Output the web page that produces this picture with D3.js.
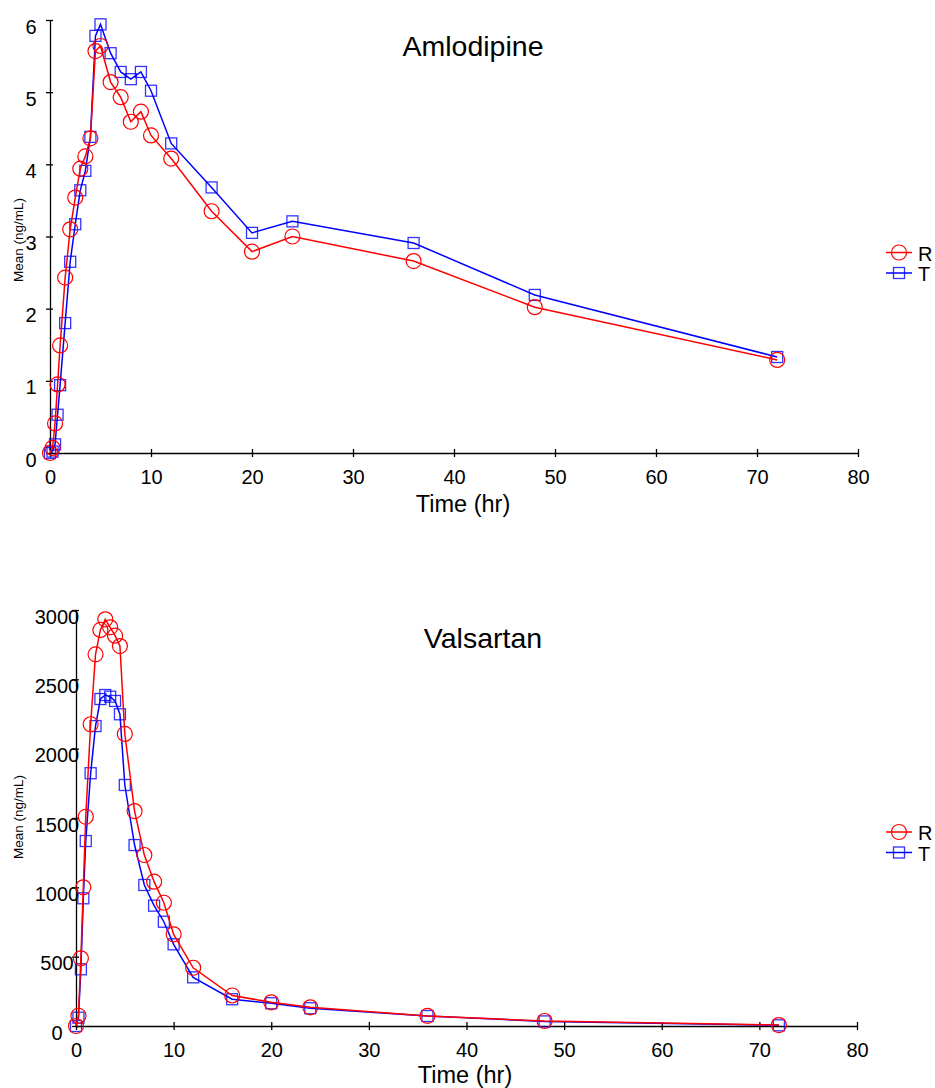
<!DOCTYPE html>
<html>
<head>
<meta charset="utf-8">
<script src="https://cdn.jsdelivr.net/npm/d3@7"></script>
<style>
  body { margin: 0; background: #fff; }
  svg { display: block; }
  text { font-family: "Liberation Sans", Arial, sans-serif; fill: #000; }
</style>
</head>
<body>
<div id="chart"></div>
<script>
const kWidth = 935;
const kHeight = 1088;

// sampling times (hr), same for both analytes
const times = [0, 0.25, 0.5, 0.75, 1, 1.5, 2, 2.5, 3, 3.5, 4, 4.5, 5, 6, 7, 8, 9, 10, 12, 16, 20, 24, 36, 48, 72];

// Amlodipine mean conc (ng/mL)
const amloR = [0, 0.07, 0.41, 0.95, 1.49, 2.43, 3.10, 3.54, 3.94, 4.11, 4.36, 5.57, 5.64, 5.14, 4.93, 4.59, 4.73, 4.40, 4.08, 3.35, 2.79, 3.00, 2.66, 2.02, 1.29];
const amloT = [0, 0.02, 0.12, 0.53, 0.94, 1.80, 2.65, 3.17, 3.64, 3.91, 4.38, 5.78, 5.94, 5.54, 5.28, 5.18, 5.28, 5.02, 4.29, 3.68, 3.05, 3.21, 2.91, 2.19, 1.33];

// Valsartan mean conc (ng/mL)
const valsR = [0, 74, 488, 1000, 1509, 2176, 2680, 2856, 2933, 2875, 2815, 2740, 2106, 1550, 1233, 1041, 889, 661, 420, 220, 171, 135, 73, 36, 7];
const valsT = [0, 60, 409, 921, 1334, 1823, 2163, 2358, 2387, 2375, 2344, 2248, 1738, 1305, 1017, 868, 752, 589, 351, 193, 164, 128, 72, 33, 5];

const xTicks = [0, 10, 20, 30, 40, 50, 60, 70, 80];
const amloYTicks = [0, 1, 2, 3, 4, 5, 6];
const valsYTicks = [0, 500, 1000, 1500, 2000, 2500, 3000];

const seriesNames = ["R", "T"];
const seriesColors = ["#ff0000", "#0000ff"];
const seriesMarks = ["circle", "square"];

function createSvg()
{
  return d3.select("#chart")
    .append("svg")
    .attr("width", kWidth)
    .attr("height", kHeight);
}

function drawMark(g, kind, color, x, y)
{
  if (kind === "circle") {
    g.append("circle")
      .attr("cx", x).attr("cy", y).attr("r", 7.5)
      .attr("fill", "none").attr("stroke", color).attr("stroke-width", 1.2);
  } else {
    g.append("rect")
      .attr("x", x - 5.5).attr("y", y - 5.5).attr("width", 11).attr("height", 11)
      .attr("fill", "none").attr("stroke", color).attr("stroke-width", 1.3)
      .attr("stroke-opacity", 0.8);
  }
}

function drawPanel(svg, p)
{
  const x = d3.scaleLinear().domain([0, 80]).range(p.xRange);
  const y = d3.scaleLinear().domain(p.yDomain).range(p.yRange);
  const g = svg.append("g");

  // x axis
  const xAxis = d3.axisBottom(x).tickValues(xTicks).tickSize(0).tickFormat("");
  const gx = g.append("g")
    .attr("transform", `translate(0, ${p.yRange[0]})`)
    .call(xAxis);
  gx.select(".domain").attr("stroke", "#000").attr("stroke-width", 1.3);
  gx.selectAll(".tick").append("line")
    .attr("y1", -4).attr("y2", 4).attr("stroke", "#000").attr("stroke-width", 1.3);
  gx.selectAll(".tick").append("text")
    .attr("y", 31).attr("text-anchor", "middle")
    .style("font-size", "20px")
    .text(d => d);

  // y axis
  const yAxis = d3.axisLeft(y).tickValues(p.yTicks).tickSize(0).tickFormat("");
  const gy = g.append("g")
    .attr("transform", `translate(${p.xRange[0]}, 0)`)
    .call(yAxis);
  gy.select(".domain").attr("stroke", "#000").attr("stroke-width", 1.3);
  gy.selectAll(".tick").append("line")
    .attr("x1", -4).attr("x2", 3).attr("stroke", "#000").attr("stroke-width", 1.3);
  gy.selectAll(".tick").append("text")
    .attr("x", -19).attr("y", 13).attr("text-anchor", "middle")
    .style("font-size", "20px")
    .text(d => d);

  // series, T underneath R
  const line = d3.line().x((d, i) => x(times[i])).y(d => y(d));
  [1, 0].forEach(s => {
    const vals = p.series[s];
    g.append("path")
      .datum(vals)
      .attr("d", line)
      .attr("fill", "none")
      .attr("stroke", seriesColors[s])
      .attr("stroke-width", 1.5);
    const mg = g.append("g");
    vals.forEach((v, i) => drawMark(mg, seriesMarks[s], seriesColors[s], x(times[i]), y(v)));
  });

  // title
  g.append("text")
    .attr("x", p.titleX).attr("y", p.titleY)
    .attr("text-anchor", "middle")
    .style("font-size", "28.5px")
    .text(p.title);

  // axis titles
  g.append("text")
    .attr("x", p.xTitleX).attr("y", p.xTitleY)
    .attr("text-anchor", "middle")
    .style("font-size", "23.5px")
    .text("Time (hr)");
  g.append("text")
    .attr("transform", `translate(23, ${p.yLabelY}) rotate(-90)`)
    .attr("text-anchor", "middle")
    .style("font-size", "13.5px")
    .text("Mean (ng/mL)");

  // legend
  seriesNames.forEach((name, s) => {
    const ly = p.legendY + s * 20.5;
    g.append("line")
      .attr("x1", 886).attr("x2", 912).attr("y1", ly).attr("y2", ly)
      .attr("stroke", seriesColors[s]).attr("stroke-width", 1.5);
    drawMark(g, seriesMarks[s], seriesColors[s], 899, ly);
    g.append("text")
      .attr("x", 918).attr("y", ly + 8)
      .style("font-size", "20px")
      .text(name);
  });
}

document.addEventListener("DOMContentLoaded", () => {
  const svg = createSvg();
  drawPanel(svg, {
    title: "Amlodipine", titleX: 473, titleY: 56,
    xRange: [50, 858], yRange: [453, 20], yDomain: [0, 6], yTicks: amloYTicks,
    series: [amloR, amloT], xTitleX: 463, xTitleY: 512, yLabelY: 240, legendY: 252.5
  });
  drawPanel(svg, {
    title: "Valsartan", titleX: 483, titleY: 648,
    xRange: [76, 857], yRange: [1026, 610], yDomain: [0, 3000], yTicks: valsYTicks,
    series: [valsR, valsT], xTitleX: 465, xTitleY: 1083, yLabelY: 817, legendY: 832
  });
});
</script>
</body>
</html>
